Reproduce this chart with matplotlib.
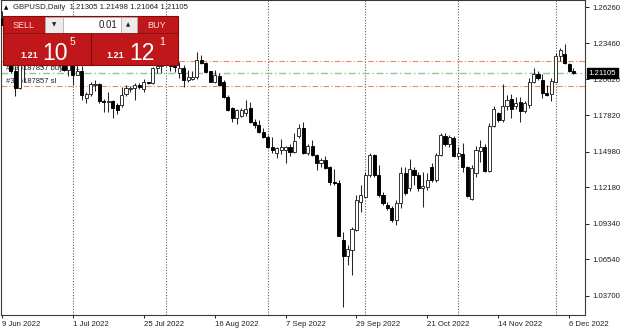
import matplotlib
matplotlib.use("Agg")
import matplotlib.pyplot as plt
import matplotlib.transforms as mtransforms
import numpy as np
from matplotlib.patches import Rectangle
from matplotlib.colors import LinearSegmentedColormap

plt.rcParams['font.family'] = ['Liberation Sans', 'DejaVu Sans']

# GBPUSD daily bars, 9 Jun 2022 .. 7 Dec 2022 (one value per trading day)
opens = [1.2535, 1.2490, 1.2310, 1.2130, 1.1995, 1.2180, 1.2350, 1.2225, 1.2260, 1.2275,
         1.2260, 1.2265, 1.2270, 1.2275, 1.2180, 1.2135, 1.2175, 1.2100, 1.2130, 1.1920,
         1.1945, 1.2015, 1.2030, 1.1890, 1.1885, 1.1890, 1.1862, 1.1862, 1.1950, 1.1990,
         1.1998, 1.2015, 1.1985, 1.2040, 1.2033, 1.2150, 1.2170, 1.2175, 1.2240, 1.2165,
         1.2112, 1.2150, 1.2058, 1.2068, 1.2078, 1.2212, 1.2190, 1.2125, 1.2045, 1.2088,
         1.2044, 1.1927, 1.1838, 1.1758, 1.1776, 1.1800, 1.1838, 1.1731, 1.1706, 1.1653,
         1.1614, 1.1536, 1.1487, 1.1510, 1.1510, 1.1534, 1.1492, 1.1619, 1.1680, 1.1484,
         1.1541, 1.1471, 1.1406, 1.1432, 1.1379, 1.1262, 1.1254, 1.0806, 1.0681, 1.0728,
         1.0884, 1.1106, 1.1145, 1.1315, 1.1471, 1.1315, 1.1158, 1.1080, 1.1054, 1.0963,
         1.1096, 1.1330, 1.1213, 1.1354, 1.1315, 1.1211, 1.1223, 1.1379, 1.1275, 1.1471,
         1.1619, 1.1557, 1.1600, 1.1465, 1.1479, 1.1379, 1.1130, 1.1330, 1.1502, 1.1536,
         1.1346, 1.1700, 1.1797, 1.1745, 1.1857, 1.1906, 1.1856, 1.1888, 1.1815, 1.1860,
         1.2044, 1.2102, 1.2057, 1.1953, 1.1946, 1.2044, 1.2247, 1.2262, 1.2180, 1.21305]
highs = [1.2600, 1.2510, 1.2320, 1.2165, 1.2200, 1.2406, 1.2360, 1.2290, 1.2325, 1.2315,
         1.2295, 1.2325, 1.2330, 1.2315, 1.2215, 1.2180, 1.2180, 1.2165, 1.2165, 1.1960,
         1.2045, 1.2060, 1.2035, 1.1910, 1.1965, 1.1900, 1.1880, 1.2000, 1.2020, 1.2010,
         1.2035, 1.2035, 1.2065, 1.2045, 1.2161, 1.2215, 1.2245, 1.2293, 1.2280, 1.2190,
         1.2200, 1.2175, 1.2137, 1.2130, 1.2276, 1.2250, 1.2200, 1.2130, 1.2136, 1.2110,
         1.2055, 1.1940, 1.1849, 1.1830, 1.1840, 1.1900, 1.1888, 1.1752, 1.1745, 1.1680,
         1.1625, 1.1610, 1.1530, 1.1595, 1.1540, 1.1560, 1.1643, 1.1712, 1.1731, 1.1560,
         1.1590, 1.1480, 1.1450, 1.1460, 1.1385, 1.1365, 1.1275, 1.0870, 1.0767, 1.0910,
         1.1158, 1.1236, 1.1341, 1.1489, 1.1480, 1.1393, 1.1180, 1.1100, 1.1070, 1.1120,
         1.1380, 1.1380, 1.1440, 1.1380, 1.1340, 1.1336, 1.1330, 1.1410, 1.1485, 1.1645,
         1.1640, 1.1630, 1.1620, 1.1530, 1.1565, 1.1385, 1.1390, 1.1540, 1.1588, 1.1560,
         1.1725, 1.1855, 1.1810, 1.2026, 1.1940, 1.1950, 1.1927, 1.1927, 1.1895, 1.2075,
         1.2149, 1.2125, 1.2102, 1.2018, 1.2073, 1.2266, 1.2305, 1.2337, 1.2188, 1.21498]
lows = [1.2485, 1.2295, 1.2115, 1.1934, 1.1985, 1.2040, 1.2210, 1.2200, 1.2225, 1.2160,
        1.2180, 1.2215, 1.2240, 1.2160, 1.2125, 1.2090, 1.2020, 1.2095, 1.1900, 1.1875,
        1.1930, 1.1970, 1.1880, 1.1810, 1.1808, 1.1760, 1.1790, 1.1850, 1.1930, 1.1960,
        1.1900, 1.1990, 1.1960, 1.2025, 1.2025, 1.2110, 1.2110, 1.2170, 1.2130, 1.2120,
        1.2073, 1.2005, 1.2045, 1.2060, 1.2065, 1.2180, 1.2120, 1.2040, 1.2036, 1.2010,
        1.1915, 1.1815, 1.1731, 1.1717, 1.1770, 1.1778, 1.1719, 1.1682, 1.1643, 1.1600,
        1.1526, 1.1490, 1.1444, 1.1480, 1.1405, 1.1460, 1.1485, 1.1601, 1.1475, 1.1470,
        1.1460, 1.1354, 1.1380, 1.1360, 1.1236, 1.1236, 1.0835, 1.0285, 1.0611, 1.0535,
        1.0880, 1.1028, 1.1140, 1.1300, 1.1300, 1.1145, 1.1080, 1.1041, 1.0950, 1.0925,
        1.1060, 1.1158, 1.1190, 1.1236, 1.1190, 1.1062, 1.1200, 1.1262, 1.1262, 1.1462,
        1.1540, 1.1535, 1.1455, 1.1440, 1.1340, 1.1145, 1.1120, 1.1301, 1.1419, 1.1340,
        1.1335, 1.1690, 1.1727, 1.1727, 1.1823, 1.1760, 1.1831, 1.1731, 1.1800, 1.1841,
        1.2035, 1.2060, 1.1914, 1.1935, 1.1893, 1.2039, 1.2206, 1.2180, 1.2122, 1.21064]
closes = [1.2490, 1.2310, 1.2130, 1.1995, 1.2180, 1.2350, 1.2225, 1.2260, 1.2275, 1.2260,
          1.2265, 1.2270, 1.2275, 1.2180, 1.2135, 1.2175, 1.2100, 1.2130, 1.1940, 1.1945,
          1.2025, 1.2030, 1.1890, 1.1885, 1.1895, 1.1836, 1.1823, 1.1940, 1.1995, 1.1998,
          1.2015, 1.2005, 1.2040, 1.2033, 1.2150, 1.2170, 1.2175, 1.2240, 1.2165, 1.2160,
          1.2150, 1.2057, 1.2077, 1.2078, 1.2212, 1.2190, 1.2122, 1.2044, 1.2097, 1.2018,
          1.1927, 1.1823, 1.1758, 1.1823, 1.1823, 1.1830, 1.1731, 1.1706, 1.1653, 1.1614,
          1.1536, 1.1510, 1.1526, 1.1530, 1.1532, 1.1494, 1.1583, 1.1680, 1.1484, 1.1541,
          1.1471, 1.1406, 1.1432, 1.1367, 1.1262, 1.1254, 1.0838, 1.0681, 1.0736, 1.0892,
          1.1119, 1.1158, 1.1315, 1.1471, 1.1315, 1.1158, 1.1093, 1.1054, 1.0963, 1.1093,
          1.1330, 1.1176, 1.1361, 1.1315, 1.1211, 1.1231, 1.1275, 1.1275, 1.1471, 1.1627,
          1.1557, 1.1610, 1.1460, 1.1484, 1.1379, 1.1153, 1.1367, 1.1510, 1.1536, 1.1346,
          1.1700, 1.1831, 1.1745, 1.1856, 1.1901, 1.1831, 1.1875, 1.1815, 1.1875, 1.2044,
          1.2102, 1.2075, 1.1953, 1.1940, 1.2050, 1.2247, 1.2292, 1.2188, 1.2128, 1.21105]

date_tick_bars = [0, 16, 32, 48, 64, 80, 96, 112, 128]
date_tick_labels = ["9 Jun 2022", "1 Jul 2022", "25 Jul 2022", "16 Aug 2022", "7 Sep 2022",
                    "29 Sep 2022", "21 Oct 2022", "14 Nov 2022", "6 Dec 2022"]
month_start_bars = [16, 37, 60, 82, 103, 125]
price_ticks = [1.26260, 1.23460, 1.20620, 1.17820, 1.14980, 1.12180, 1.09340, 1.06540, 1.03700]

tp_level = 1.22060
sl_level = 1.20105
open_level = 1.21101
last_price = 1.21105
order_ticket = "#336187857"

W, H = 625, 330
fig = plt.figure(figsize=(W / 100, H / 100), dpi=100)
ax = fig.add_axes([1 / W, 15 / H, 584 / W, 315 / H])

x = np.arange(len(opens))
o = np.array(opens); c = np.array(closes)
hi = np.array(highs); lo = np.array(lows)
up = c >= o

# wicks then bodies
ax.vlines(x, lo, hi, color='#262626', lw=0.75, zorder=3)
bottom = np.minimum(o, c)
height = np.maximum(np.abs(c - o), 0.00025)
ax.bar(x[up], height[up], bottom=bottom[up], width=0.7, color='white',
       edgecolor='#262626', linewidth=0.65, zorder=4)
ax.bar(x[~up], height[~up], bottom=bottom[~up], width=0.7, color='black',
       edgecolor='black', linewidth=0.65, zorder=4)

# month separators
for b in month_start_bars:
    ax.axvline(b, color='#606060', lw=0.8, ls=(0, (1, 1.5)), zorder=1)

# order lines
ax.axhline(tp_level, color='#f4865a', lw=0.8, ls=(0, (5, 2, 1, 2)), zorder=2)
ax.axhline(sl_level, color='#f4865a', lw=0.8, ls=(0, (5, 2, 1, 2)), zorder=2)
ax.axhline(open_level, color='#8fca8f', lw=1.0, ls=(0, (5, 2, 1, 2)), zorder=2)
ax.text(0.9, open_level + 0.0007, order_ticket + " buy 0.01", fontsize=5.5,
        color='#202020', va='bottom', ha='left', zorder=2)
ax.text(0.9, sl_level + 0.0010, order_ticket + " sl", fontsize=5.5,
        color='#202020', va='bottom', ha='left', zorder=2)

ax.set_xlim(-0.226, 131.6)
ax.set_ylim(1.02197, 1.2683)

for s in ax.spines.values():
    s.set_color('#3a3a3a')
    s.set_linewidth(0.8)

ax.yaxis.tick_right()
ax.set_yticks(price_ticks)
ax.set_yticklabels(["%.5f" % p for p in price_ticks])
ax.tick_params(axis='y', direction='out', length=3, width=0.7, pad=2,
               labelsize=5.6, colors='#202020')
ax.set_xticks(date_tick_bars)
ax.set_xticklabels(date_tick_labels)
ax.tick_params(axis='x', direction='out', length=2.5, width=0.7, pad=2,
               labelsize=5.6, colors='#202020')
for lab in ax.get_xticklabels():
    lab.set_ha('left')

trans = mtransforms.blended_transform_factory(ax.transAxes, ax.transData)
ax.annotate("%.5f" % last_price, xy=(1, last_price), xycoords=trans,
            xytext=(2.6, 0), textcoords='offset points', ha='left', va='center',
            fontsize=5.6, color='white', annotation_clip=False, zorder=10,
            bbox=dict(boxstyle='square,pad=0.22', fc='black', ec='black'))

# overlay in pixel coordinates: header + one click trading panel
ov = fig.add_axes([0, 0, 1, 1])
ov.set_zorder(5)
ov.axis('off')

ov.text(6, 7.5, "\u25b2", fontsize=4, ha='center', va='center', color='black',
        family=['DejaVu Sans'])
ov.text(13, 7.5, "GBPUSD,Daily  1.21305 1.21498 1.21064 1.21105", fontsize=5.6,
        ha='left', va='center', color='#202020')

red_grad = LinearSegmentedColormap.from_list('r', ['#ea4a46', '#d2201f', '#b40a0b'])
grad = np.linspace(0, 1, 64).reshape(-1, 1)

ov.add_patch(Rectangle((3, 16), 175, 49, fc='#c0181a', ec='#8a0a0a', lw=0.8))
# top row
top_grad = LinearSegmentedColormap.from_list('t', ['#ee5552', '#d42a28'])
ov.imshow(grad, extent=(3.5, 44, 33, 16.5), origin='upper', cmap=top_grad, aspect='auto')
ov.imshow(grad, extent=(137, 177.5, 33, 16.5), origin='upper', cmap=top_grad, aspect='auto')
ov.add_patch(Rectangle((45, 17), 17.5, 16, fc='#ececec', ec='#b0b0b0', lw=0.5))
ov.add_patch(Rectangle((62.5, 17), 58, 16, fc='white', ec='#b0b0b0', lw=0.5))
ov.add_patch(Rectangle((120.5, 17), 16, 16, fc='#ececec', ec='#b0b0b0', lw=0.5))
ov.text(24, 25, "SELL", fontsize=6.5, color='#ffe0e0', ha='center', va='center')
ov.text(157, 25, "BUY", fontsize=6.5, color='#ffe0e0', ha='center', va='center')
ov.text(54, 25, "\u25bc", fontsize=4, color='#202020', ha='center', va='center',
        family=['DejaVu Sans'])
ov.text(128.5, 24.5, "\u25b2", fontsize=4, color='#202020', ha='center', va='center',
        family=['DejaVu Sans'])
ov.text(117, 25, "0.01", fontsize=7, color='#202020', ha='right', va='center')
# price buttons
ov.imshow(grad, extent=(3.5, 90.5, 64.5, 33.5), origin='upper', cmap=red_grad, aspect='auto')
ov.imshow(grad, extent=(91.5, 177.5, 64.5, 33.5), origin='upper', cmap=red_grad, aspect='auto')
ov.plot([91, 91], [33.5, 64.5], color='#7a0606', lw=0.8)
ov.plot([3.5, 177.5], [33.3, 33.3], color='#8a0a0a', lw=0.6)

ov.text(20, 58.5, "1.21", fontsize=6.5, fontweight='bold', color='white', ha='left', va='baseline')
ov.text(42.5, 60, "10", fontsize=16.5, color='white', ha='left', va='baseline')
ov.text(70, 45, "5", fontsize=7.5, color='white', ha='left', va='baseline')
ov.text(106, 58.5, "1.21", fontsize=6.5, fontweight='bold', color='white', ha='left', va='baseline')
ov.text(129.5, 60, "12", fontsize=16.5, color='white', ha='left', va='baseline')
ov.text(159.5, 45, "1", fontsize=7.5, color='white', ha='left', va='baseline')

ov.set_xlim(0, W)
ov.set_ylim(H, 0)

fig.savefig("out.png", dpi=100)
